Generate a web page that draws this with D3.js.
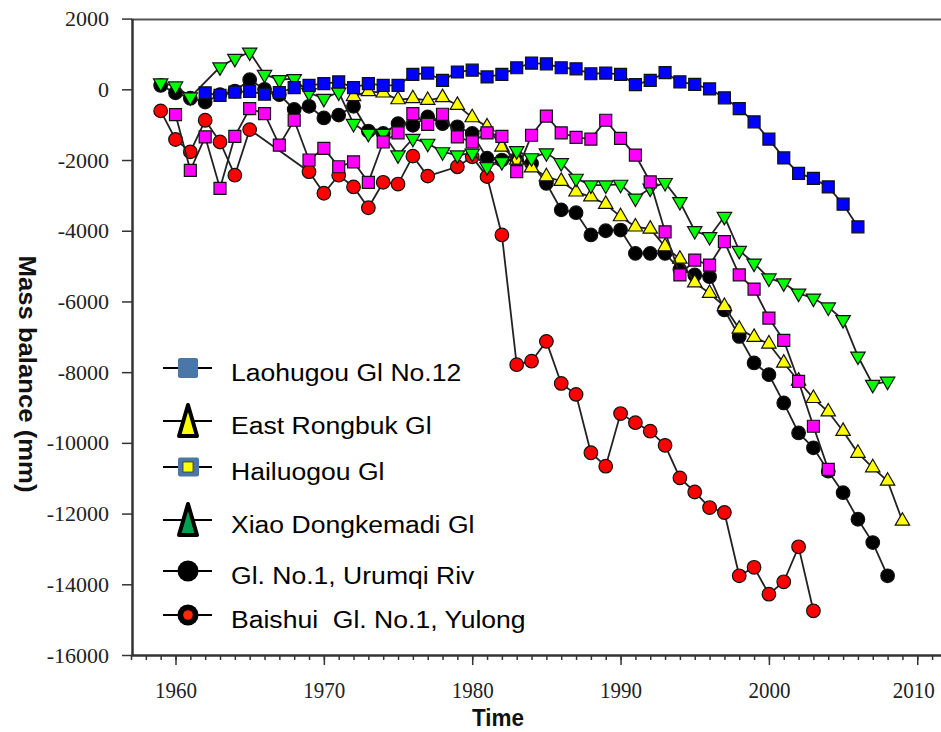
<!DOCTYPE html>
<html>
<head>
<meta charset="utf-8">
<script src="https://cdn.jsdelivr.net/npm/d3@7"></script>
<style>
  html, body { margin: 0; padding: 0; background: #fff; }
  svg { display: block; }
</style>
</head>
<body>
<svg id="chart" width="941" height="732"></svg>
<script>
// Cumulative glacier mass balance (mm w.e.), one value per year; null = no observation
const laohugouStart = 1962;
const laohugouMB = [-100,-170,-80,-60,-140,-90,50,110,160,210,
  50,160,110,110,420,460,250,490,540,350,
  420,610,740,720,610,580,440,460,420,130,
  250,470,210,140,10,-240,-545,-920,-1410,-1940,
  -2380,-2520,-2760,-3250,-3890];

const rongbukStart = 1972;
const rongbukMB = [-200,-60,-100,-290,-260,-310,-230,-450,-800,-1060,
  -1630,-2000,-2220,-2470,-2600,-2900,-3040,-3250,-3600,-3890,
  -3950,-4450,-4800,-5470,-5770,-6140,-6780,-7010,-7200,-7740,
  -8250,-8740,-9120,-9670,-10290,-10700,-11080,-12210];

const hailuogouStart = 1960;
const hailuogouMB = [-715,-2290,-1345,-2800,-1330,-545,-690,-1580,-875,-2000,
  -1670,-2190,-2050,-2630,-1490,-1230,-690,-990,-705,-1345,
  -1490,-1230,-1330,-2330,-1300,-760,-1230,-1360,-1410,-875,
  -1390,-1860,-2620,-4030,-5250,-4830,-4970,-4310,-5250,-5650,
  -6470,-7100,-8260,-9530,-10750];

const dongkemadiStart = 1959;
const dongkemadiMB = [180,90,-220,null,630,870,1050,420,270,300,
  -100,-260,-80,-970,-1250,-1250,-1860,-1390,-1530,-1770,
  -1860,-1810,-2190,-2050,-1740,-1940,-1800,-2080,-2520,-2710,
  -2710,-2690,-3080,-2800,-2640,-3180,-4000,-4170,-3600,-4560,
  -4920,-5340,-5480,-5770,-5910,-6160,-6520,-7550,-8350,-8260];

const urumqiStart = 1959;
const urumqiMB = [110,-100,-250,-360,-150,-50,270,0,-150,-570,
  -480,-810,-730,-480,-1180,-1250,-970,-1020,-780,-970,
  -1060,-1250,-1950,-2000,-2000,-2100,-2660,-3410,-3490,-4120,
  -4000,-3980,-4640,-4640,-4640,-5100,-5250,-5300,-6240,-6990,
  -7740,-8070,-8870,-9720,-10140,-10800,-11410,-12160,-12820,-13760];

const baishuiStart = 1959;
const baishuiMB = [-610,-1420,-1770,-875,-1490,-2430,-1140,null,null,null,
  -2330,-2940,-2430,-2760,-3350,-2630,-2680,-1890,-2455,null,
  -2190,-1910,-2470,-4120,-7790,-7690,-7130,-8320,-8630,-10280,
  -10660,-9170,-9430,-9670,-10070,-10990,-11390,-11830,-11970,-13760,
  -13520,-14280,-13930,-12940,-14750];

const legendLabels = ["Laohugou Gl No.12", "East Rongbuk Gl", "Hailuogou Gl",
  "Xiao Dongkemadi Gl", "Gl. No.1, Urumqi Riv", "Baishui  Gl. No.1, Yulong"];

const yTickValues = [2000,0,-2000,-4000,-6000,-8000,-10000,-12000,-14000,-16000];
const xTickValues = [1960,1970,1980,1990,2000,2010];

const svg = d3.select("#chart");

const x = d3.scaleLinear().domain([1957, 2011.6]).range([131, 941]);
const y = d3.scaleLinear().domain([-16000, 2000]).range([655, 18.6]);

const toPoints = (start, vals) => vals
  .map((v, i) => ({ year: start + i, mb: v }))
  .filter(d => d.mb !== null);

// ---- axes ----
const axisColor = "#333";
const labelFont = "'Liberation Serif','Times New Roman',serif";
const plainNumber = d => String(d);   // ASCII hyphen for negatives

// top frame line
svg.append("line")
  .attr("x1", x.range()[0]).attr("x2", x.range()[1])
  .attr("y1", y(2000) + 1).attr("y2", y(2000) + 1)
  .attr("stroke", "#555").attr("stroke-width", 2);

// minor yearly ticks on x
const xMinor = svg.append("g")
  .attr("transform", `translate(0,${y(-16000)})`)
  .call(d3.axisBottom(x).tickValues(d3.range(1957, 2012)).tickSize(5).tickFormat(""));
xMinor.select(".domain").remove();
xMinor.selectAll("line").attr("stroke", axisColor).attr("stroke-width", 1.5);

const xAxis = svg.append("g")
  .attr("transform", `translate(0,${y(-16000)})`)
  .call(d3.axisBottom(x).tickValues(xTickValues).tickSize(10).tickPadding(16)
    .tickFormat(plainNumber).tickSizeOuter(0));
xAxis.select(".domain").attr("stroke", axisColor).attr("stroke-width", 2.5);
xAxis.selectAll(".tick line").attr("stroke", axisColor).attr("stroke-width", 1.5);
xAxis.selectAll("text")
  .attr("font-family", labelFont).attr("font-size", 24)
  .attr("fill", "#222")
  .attr("textLength", 42).attr("lengthAdjust", "spacingAndGlyphs");
// keep the last year label inside the drawing
xAxis.selectAll(".tick").filter(d => d === 2010).select("text")
  .attr("text-anchor", "end").attr("x", 17);

const yAxis = svg.append("g")
  .attr("transform", `translate(${x(1957) + 1},0)`)
  .call(d3.axisLeft(y).tickValues(yTickValues).tickSize(10).tickPadding(13)
    .tickFormat(plainNumber).tickSizeOuter(0));
yAxis.select(".domain").attr("stroke", axisColor).attr("stroke-width", 2.5);
yAxis.selectAll(".tick line").attr("stroke", axisColor).attr("stroke-width", 1.5);
yAxis.selectAll("text")
  .attr("font-family", labelFont).attr("font-size", 22)
  .attr("fill", "#222");

// axis titles
svg.append("text")
  .attr("transform", `translate(19,374) rotate(90)`)
  .attr("text-anchor", "middle")
  .attr("font-family", "'Liberation Sans',Arial,sans-serif")
  .attr("font-weight", "bold").attr("font-size", 24)
  .attr("textLength", 237).attr("lengthAdjust", "spacingAndGlyphs")
  .attr("fill", "#111")
  .text("Mass balance (mm)");

svg.append("text")
  .attr("x", 498).attr("y", 726)
  .attr("text-anchor", "middle")
  .attr("font-family", "'Liberation Sans',Arial,sans-serif")
  .attr("font-weight", "bold").attr("font-size", 24)
  .attr("textLength", 52).attr("lengthAdjust", "spacingAndGlyphs")
  .attr("fill", "#111")
  .text("Time");

// ---- series ----
const symbols = {
  square: d3.symbol().type(d3.symbolSquare).size(144),
  circle: d3.symbol().type(d3.symbolCircle).size(145),
  triUp: d3.symbol().type(d3.symbolTriangle).size(90),
};

const series = [
  { pts: toPoints(baishuiStart, baishuiMB), fill: "#ff0000", shape: "circle", rot: 0 },
  { pts: toPoints(urumqiStart, urumqiMB), fill: "#000000", shape: "circle", rot: 0 },
  { pts: toPoints(rongbukStart, rongbukMB), fill: "#ffff00", shape: "triUp", rot: 0 },
  { pts: toPoints(dongkemadiStart, dongkemadiMB), fill: "#00ff00", shape: "triUp", rot: 180 },
  { pts: toPoints(hailuogouStart, hailuogouMB), fill: "#ff00ff", shape: "square", rot: 0 },
  { pts: toPoints(laohugouStart, laohugouMB), fill: "#0000ff", shape: "square", rot: 0 },
];

const line = d3.line().x(d => x(d.year)).y(d => y(d.mb));

series.forEach(s => {
  const g = svg.append("g");
  g.append("path")
    .attr("d", line(s.pts))
    .attr("fill", "none")
    .attr("stroke", "#222")
    .attr("stroke-width", 1.8);
  g.selectAll("path.mk")
    .data(s.pts)
    .join("path")
    .attr("class", "mk")
    .attr("d", symbols[s.shape])
    .attr("transform", d => `translate(${x(d.year)},${y(d.mb)}) rotate(${s.rot})`)
    .attr("fill", s.fill)
    .attr("stroke", "#111")
    .attr("stroke-width", 1.2);
});

// ---- legend ----
const legendRowY = [368, 421, 467, 520, 571, 615];
const lg = svg.append("g");
legendLabels.forEach((label, i) => {
  const cy = legendRowY[i];
  lg.append("line")
    .attr("x1", 163).attr("x2", 212).attr("y1", cy).attr("y2", cy)
    .attr("stroke", "#000").attr("stroke-width", 1.8);
  lg.append("text")
    .attr("transform", `translate(231,${cy + 13}) scale(1.13,1)`)
    .attr("font-family", "'Liberation Sans',Arial,sans-serif")
    .attr("font-size", 23.5).attr("fill", "#000")
    .style("white-space", "pre")
    .text(label);
});

const steel = "#4a76a8";
// Laohugou
lg.append("rect").attr("x", 178).attr("y", legendRowY[0] - 10).attr("width", 20).attr("height", 20)
  .attr("rx", 2).attr("fill", steel);
// East Rongbuk
const tallTri = cy => `M188,${cy - 16} L197,${cy + 15} L179,${cy + 15} Z`;
lg.append("path").attr("d", tallTri(legendRowY[1]))
  .attr("fill", "#ffff00").attr("stroke", "#000").attr("stroke-width", 4).attr("stroke-linejoin", "round");
// Hailuogou
lg.append("rect").attr("x", 178).attr("y", legendRowY[2] - 9.5).attr("width", 21).attr("height", 19)
  .attr("rx", 2).attr("fill", steel);
lg.append("rect").attr("x", 183).attr("y", legendRowY[2] - 5).attr("width", 10).attr("height", 10)
  .attr("fill", "#ffff00").attr("stroke", "#333").attr("stroke-width", 0.8);
// Xiao Dongkemadi
lg.append("path").attr("d", tallTri(legendRowY[3]))
  .attr("fill", "#00a050").attr("stroke", "#000").attr("stroke-width", 4).attr("stroke-linejoin", "round");
// Urumqi
lg.append("circle").attr("cx", 188).attr("cy", legendRowY[4]).attr("r", 10.5).attr("fill", "#000");
// Baishui
lg.append("circle").attr("cx", 188).attr("cy", legendRowY[5]).attr("r", 10.5).attr("fill", "#000");
lg.append("circle").attr("cx", 188).attr("cy", legendRowY[5]).attr("r", 4.8).attr("fill", "#ff2a00");
</script>
</body>
</html>
